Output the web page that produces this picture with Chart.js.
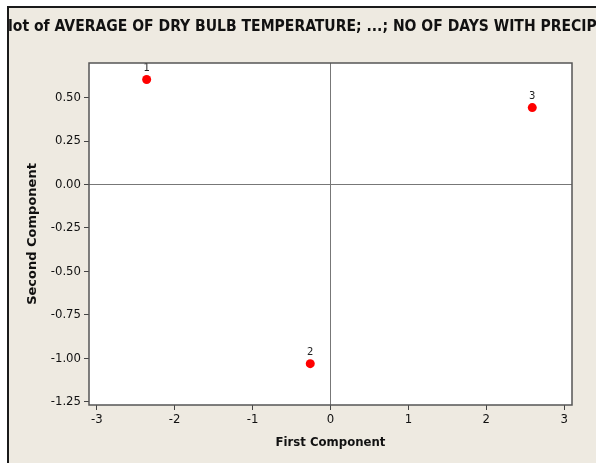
<!DOCTYPE html>
<html>
<head>
<meta charset="utf-8">
<script src="https://cdn.jsdelivr.net/npm/chart.js@4/dist/chart.umd.min.js"></script>
<style>
  html, body { margin: 0; padding: 0; background: #fff; }
  #frame {
    position: absolute; left: 7px; top: 6px; width: 589px; height: 457px;
    border-left: 2px solid #1a1a1a; border-top: 2px solid #1a1a1a;
    background: #EEEAE1;
  }
  #wrap { position: absolute; left: 0; top: 0; width: 596px; height: 463px; }
</style>
</head>
<body>
<div id="frame"></div>
<div id="wrap"><canvas id="scoreChart" width="596" height="463"></canvas></div>
<script>
// ── 데이터 ──
var pointLabels = ['1', '2', '3'];
var firstComponent = [-2.36, -0.26, 2.59];
var secondComponent = [0.605, -1.032, 0.443];

var xTicks = [-3, -2, -1, 0, 1, 2, 3];
var yTicks = [0.5, 0.25, 0, -0.25, -0.5, -0.75, -1, -1.25];

var titleText = 'lot of AVERAGE OF DRY BULB TEMPERATURE; ...; NO OF DAYS WITH PRECIPI';

var condensed = '"DejaVu Sans Condensed", "DejaVu Sans", sans-serif';

// ── 플러그인: 흰 플롯 영역 + 테두리 + 제목 ──
var plotBoxPlugin = {
  id: 'plotBox',
  beforeDraw: function(chart) {
    var a = chart.chartArea;
    var ctx = chart.ctx;
    ctx.save();
    ctx.fillStyle = '#ffffff';
    ctx.fillRect(a.left, a.top, a.right - a.left, a.bottom - a.top);
    ctx.restore();
  },
  afterDraw: function(chart) {
    var a = chart.chartArea;
    var ctx = chart.ctx;
    ctx.save();
    ctx.strokeStyle = '#555555';
    ctx.lineWidth = 1.5;
    ctx.strokeRect(a.left, a.top, a.right - a.left, a.bottom - a.top);
    // 제목 (원본처럼 양쪽이 잘림)
    ctx.fillStyle = '#111111';
    ctx.font = 'bold 16px ' + condensed;
    ctx.textAlign = 'left';
    ctx.textBaseline = 'middle';
    ctx.fillText(titleText, 8, 27, 594);
    ctx.restore();
  }
};

// ── 플러그인: 점 번호 ──
var pointLabelPlugin = {
  id: 'pointLabel',
  afterDatasetsDraw: function(chart) {
    var meta = chart.getDatasetMeta(0);
    var ctx = chart.ctx;
    ctx.save();
    ctx.fillStyle = '#222222';
    ctx.font = '10px "DejaVu Sans", sans-serif';
    ctx.textAlign = 'center';
    ctx.textBaseline = 'bottom';
    for (var i = 0; i < meta.data.length; i++) {
      var el = meta.data[i];
      ctx.fillText(pointLabels[i], el.x, el.y - 6);
    }
    ctx.restore();
  }
};

var points = [];
for (var i = 0; i < firstComponent.length; i++) {
  points.push({ x: firstComponent[i], y: secondComponent[i] });
}

function zeroLine(ctx) {
  return ctx.tick && ctx.tick.value === 0 ? '#777777' : 'rgba(0,0,0,0)';
}

new Chart(document.getElementById('scoreChart'), {
  type: 'scatter',
  data: {
    datasets: [{
      data: points,
      backgroundColor: '#FF0000',
      borderWidth: 0,
      pointRadius: 4.5,
      pointHoverRadius: 4.5
    }]
  },
  options: {
    responsive: false,
    animation: false,
    events: [],
    layout: { padding: { top: 63, right: 24, left: 0, bottom: 0 } },
    plugins: {
      legend: { display: false },
      tooltip: { enabled: false }
    },
    scales: {
      x: {
        type: 'linear',
        min: -3.1,
        max: 3.1,
        afterBuildTicks: function(scale) {
          scale.ticks = xTicks.map(function(v) { return { value: v }; });
        },
        afterFit: function(scale) { scale.height = 58; },
        border: { display: false },
        grid: { color: zeroLine, lineWidth: 1, tickColor: '#444444', tickLength: 5, drawOnChartArea: true },
        ticks: {
          color: '#111111',
          padding: 2,
          maxRotation: 0,
          font: { family: condensed, size: 13 },
          callback: function(v) { return String(v); }
        },
        title: {
          display: true,
          text: 'First Component',
          color: '#111111',
          font: { family: condensed, size: 13, weight: 'bold' },
          padding: { top: 0, bottom: 13 }
        }
      },
      y: {
        type: 'linear',
        min: -1.27,
        max: 0.7,
        afterBuildTicks: function(scale) {
          scale.ticks = yTicks.map(function(v) { return { value: v }; });
        },
        afterFit: function(scale) { scale.width = 89; },
        border: { display: false },
        grid: { color: zeroLine, lineWidth: 1, tickColor: '#444444', tickLength: 5, drawOnChartArea: true },
        ticks: {
          color: '#111111',
          padding: 3,
          font: { family: condensed, size: 13 },
          callback: function(v) { return v.toFixed(2); }
        },
        title: {
          display: true,
          text: 'Second Component',
          color: '#111111',
          font: { family: '"DejaVu Sans", sans-serif', size: 13, weight: 'bold' },
          padding: { top: 25, bottom: 0 }
        }
      }
    }
  },
  plugins: [plotBoxPlugin, pointLabelPlugin]
});
</script>
</body>
</html>
